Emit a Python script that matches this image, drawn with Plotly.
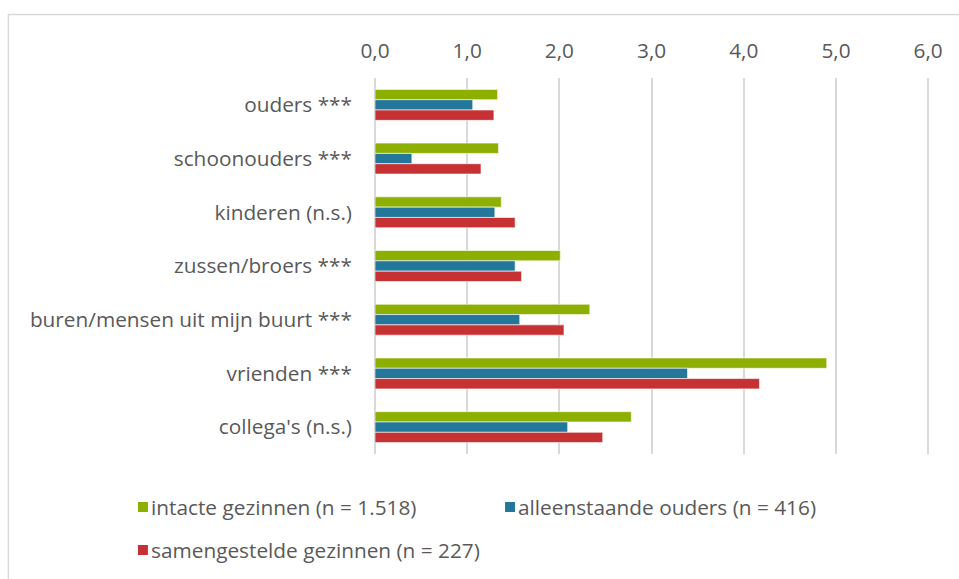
import plotly.graph_objects as go

# Average number of contacts per month, by family type
categories = [
    "ouders ***",
    "schoonouders ***",
    "kinderen (n.s.)",
    "zussen/broers ***",
    "buren/mensen uit mijn buurt ***",
    "vrienden ***",
    "collega's (n.s.)",
]
intacte = [1.33, 1.34, 1.37, 2.01, 2.33, 4.90, 2.78]
alleenstaande = [1.06, 0.40, 1.30, 1.52, 1.57, 3.39, 2.09]
samengestelde = [1.29, 1.15, 1.52, 1.59, 2.05, 4.17, 2.47]

series_names = [
    "intacte gezinnen (n = 1.518)",
    "alleenstaande ouders (n = 416)",
    "samengestelde gezinnen (n = 227)",
]
series_values = [intacte, alleenstaande, samengestelde]
colors = ["#8DB000", "#22779B", "#C63233"]
x_ticks = [0, 1, 2, 3, 4, 5, 6]

W, H = 959, 579
XMAX = 6.02
ML, MT, MB = 375, 78, 125
PW = 553 * XMAX / 6
MR = W - ML - PW
PH = H - MT - MB
FONT = "Open Sans"
FS = 20.8
TEXT = "#595959"
GRID = "#D9D9D9"


def px_x(px):
    return (px - ML) / PW


def px_y(py):
    return (H - MB - py) / PH


fig = go.Figure()
for name, vals, col in zip(series_names, series_values, colors):
    fig.add_trace(go.Bar(
        y=categories, x=vals, name=name, orientation="h",
        marker=dict(color=col, line=dict(color="rgba(255,255,255,0.6)", width=1)),
        showlegend=False,
    ))

shapes = [
    # outer chart frame
    dict(type="rect", xref="paper", yref="paper",
         x0=px_x(8.5), x1=px_x(980), y0=px_y(14.5), y1=px_y(620),
         line=dict(color=GRID, width=1.5), fillcolor="rgba(0,0,0,0)", layer="below"),
]
annotations = []

# legend drawn as swatches + labels
legend_pos = [(138, 507), (505, 507), (138, 550)]
for (lx, ly), name, col in zip(legend_pos, series_names, colors):
    shapes.append(dict(type="rect", xref="paper", yref="paper",
                       x0=px_x(lx), x1=px_x(lx + 10), y0=px_y(ly + 5), y1=px_y(ly - 5),
                       line=dict(width=0), fillcolor=col))
    annotations.append(dict(text=name, xref="paper", yref="paper",
                            x=px_x(lx + 11), y=px_y(ly), xanchor="left", yanchor="middle",
                            showarrow=False, font=dict(family=FONT, size=FS, color=TEXT)))

fig.update_layout(
    width=W, height=H,
    margin=dict(l=ML, r=MR, t=MT, b=MB, pad=0),
    paper_bgcolor="white", plot_bgcolor="white",
    barmode="group", bargap=0.424, bargroupgap=0,
    separators=",.",
    font=dict(family=FONT, size=FS, color=TEXT),
    shapes=shapes, annotations=annotations,
    xaxis=dict(
        side="top", range=[0, XMAX], tickvals=x_ticks, tickformat=".1f",
        showgrid=True, gridcolor=GRID, gridwidth=1.5,
        zeroline=True, zerolinecolor=GRID, zerolinewidth=1.5,
        showline=False, ticks="", ticklabelstandoff=15,
        tickfont=dict(family=FONT, size=FS, color=TEXT),
    ),
    yaxis=dict(
        autorange="reversed", showgrid=False, zeroline=False, showline=False,
        ticks="", ticklabelstandoff=22,
        tickfont=dict(family=FONT, size=FS, color=TEXT),
    ),
)

fig.write_html("out.html")
